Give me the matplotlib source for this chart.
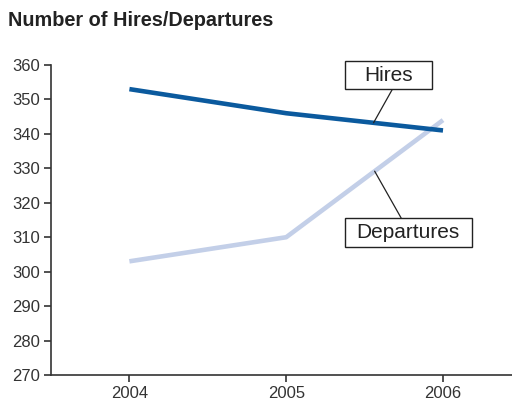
import matplotlib
matplotlib.use("Agg")
import matplotlib.pyplot as plt
import numpy as np
from matplotlib.patches import Rectangle

years = [2004, 2005, 2006]
hires = [353, 346, 341]
departures = [303, 310, 344]
yticks = list(range(270, 361, 10))
title = "Number of Hires/Departures"

plt.rcParams['font.family'] = ['Liberation Sans', 'DejaVu Sans']

fig = plt.figure(figsize=(5.12, 4.07), dpi=100)
ax = fig.add_axes([51/512, 1-375/407, 1-51/512, (375-65)/407])

dark = "#0b5a9e"
light = "#c3cfe8"
ax.plot(years, departures, color=light, lw=3.3, solid_capstyle='butt', zorder=2)
ax.plot(years, hires, color=dark, lw=3.3, solid_capstyle='butt', zorder=3)

ax.set_xlim(2003.5, 2006.44)
ax.set_ylim(270, 360)
ax.set_yticks(yticks)
ax.set_xticks(years)
ax.set_xticklabels([str(y) for y in years])
for s in ['top', 'right']:
    ax.spines[s].set_visible(False)
for s in ['left', 'bottom']:
    ax.spines[s].set_color('#333333')
    ax.spines[s].set_linewidth(1.2)
ax.tick_params(direction='out', length=5, width=1.2, color='#333333',
               labelsize=12, labelcolor='#333333', pad=3)

fig.text(8/512, 1-20/407, title, fontsize=14.3, fontweight='bold',
         color='#222222', ha='left', va='center')

# Hires label
hx = 2005.557
ax.add_patch(Rectangle((2005.373, 353.03), 2005.927 - 2005.373, 361.16 - 353.03,
                       fc='white', ec='#222222', lw=1.0, zorder=5, clip_on=False))
ax.text((2005.373 + 2005.927) / 2, (353.03 + 361.16) / 2, "Hires", ha='center',
        va='center', fontsize=15, color='#222222', zorder=6)
ax.annotate("", xy=(hx, np.interp(hx, years, hires)), xytext=(2005.678, 353.03),
            arrowprops=dict(arrowstyle='-', color='#222222', lw=0.9, shrinkA=0, shrinkB=0),
            zorder=4)

# Departures label
dx = 2005.564
ax.add_patch(Rectangle((2005.373, 307.16), 2006.182 - 2005.373, 315.58 - 307.16,
                       fc='white', ec='#222222', lw=1.0, zorder=5, clip_on=False))
ax.text((2005.373 + 2006.182) / 2, (307.16 + 315.58) / 2, "Departures", ha='center',
        va='center', fontsize=15, color='#222222', zorder=6)
ax.annotate("", xy=(dx, np.interp(dx, years, departures)), xytext=(2005.733, 315.58),
            arrowprops=dict(arrowstyle='-', color='#222222', lw=0.9, shrinkA=0, shrinkB=0),
            zorder=4)

fig.savefig("out.png", dpi=100)
